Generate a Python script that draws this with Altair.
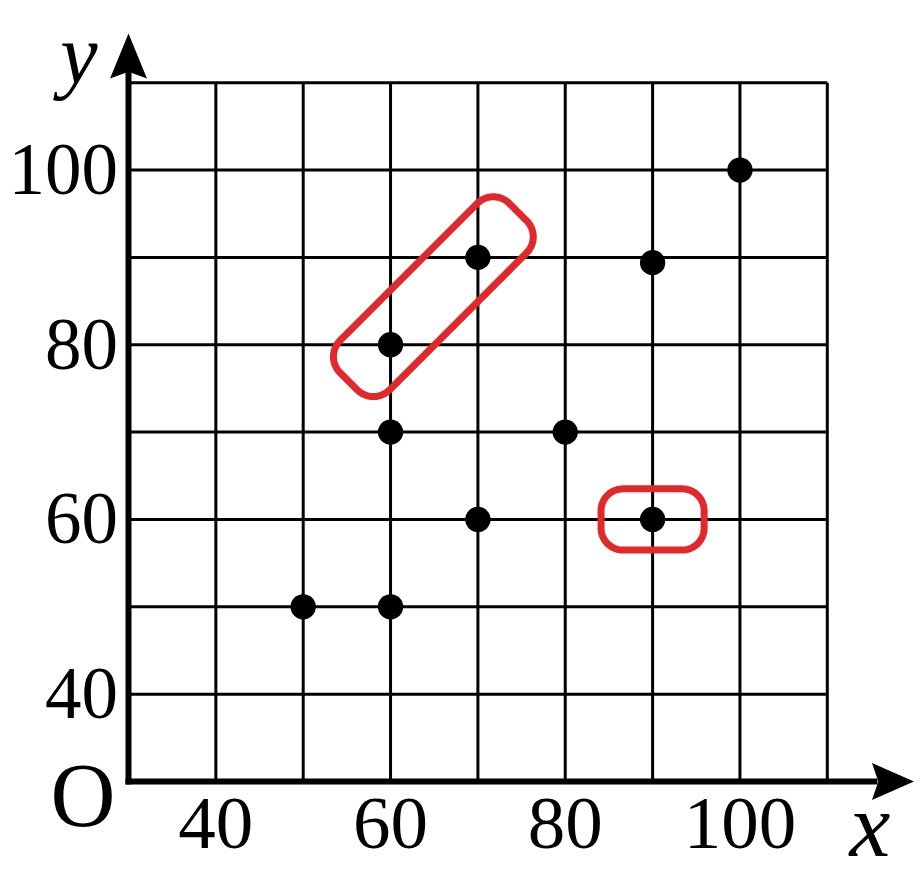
import numpy as np
import pandas as pd
import altair as alt

# ---- data ----
pt_x = [50, 60, 60, 60, 70, 70, 80, 90, 90, 100]
pt_y = [50, 50, 70, 80, 90, 60, 70, 89.4, 60, 100]

grid_vals = [40, 50, 60, 70, 80, 90, 100, 110]
tick_vals = [40, 60, 80, 100]
tick_labels = ["40", "60", "80", "100"]

# highlight loops: centre, half-length, half-width, corner radius, rotation (deg)
loop_cx = [64.9, 90]
loop_cy = [85.5, 60]
loop_hl = [13.7, 5.9]
loop_hw = [4.0, 3.5]
loop_r = [2.6, 2.5]
loop_angle = [45, 0]

AXIS_MIN = 30
GRID_MAX = 110

# ---- scales: one data unit = same pixel length on both axes ----
W, H = 907, 868
PX = 8.735
XMIN, XMAX = 16.205, 16.205 + W / PX
YMAX = 118.55
YMIN = YMAX - H / PX
xs = alt.Scale(domain=[XMIN, XMAX], nice=False, zero=False)
ys = alt.Scale(domain=[YMIN, YMAX], nice=False, zero=False)

def X(f):
    return alt.X(f, type="quantitative", scale=xs, axis=None)

def Y(f):
    return alt.Y(f, type="quantitative", scale=ys, axis=None)

# grid
vgrid = pd.DataFrame({"x": grid_vals, "y": AXIS_MIN, "y2": GRID_MAX})
hgrid = pd.DataFrame({"y": grid_vals, "x": AXIS_MIN, "x2": GRID_MAX})
vg = alt.Chart(vgrid).mark_rule(color="black", strokeWidth=3).encode(
    x=X("x"), y=Y("y"), y2="y2")
hg = alt.Chart(hgrid).mark_rule(color="black", strokeWidth=3).encode(
    y=Y("y"), x=X("x"), x2="x2")

# axes
xa = alt.Chart(pd.DataFrame({"x": [AXIS_MIN], "x2": [115.4], "y": [AXIS_MIN]})).mark_rule(
    color="black", strokeWidth=6, strokeCap="square").encode(x=X("x"), x2="x2", y=Y("y"))
ya = alt.Chart(pd.DataFrame({"y": [AXIS_MIN], "y2": [111.0], "x": [AXIS_MIN]})).mark_rule(
    color="black", strokeWidth=6, strokeCap="square").encode(y=Y("y"), y2="y2", x=X("x"))

right_arrow = "M 1 0 L -1 -0.88 L -0.7 0 L -1 0.88 Z"
up_arrow = "M 0 -1 L -0.82 1 L 0 0.7 L 0.82 1 Z"
xarr = alt.Chart(pd.DataFrame({"x": [117.52], "y": [AXIS_MIN]})).mark_point(
    shape=right_arrow, filled=True, color="black", opacity=1, size=1764).encode(x=X("x"), y=Y("y"))
yarr = alt.Chart(pd.DataFrame({"x": [AXIS_MIN], "y": [113.05]})).mark_point(
    shape=up_arrow, filled=True, color="black", opacity=1, size=2025).encode(x=X("x"), y=Y("y"))

# points
pts = alt.Chart(pd.DataFrame({"x": pt_x, "y": pt_y})).mark_circle(
    color="black", opacity=1, size=640).encode(x=X("x"), y=Y("y"))

# highlight loops (rounded rectangles)
rows = []
for k in range(len(loop_cx)):
    cx, cy, hl, hw, r, ang = loop_cx[k], loop_cy[k], loop_hl[k], loop_hw[k], loop_r[k], loop_angle[k]
    corners = [(hl - r, hw - r, 0), (-(hl - r), hw - r, 90),
               (-(hl - r), -(hw - r), 180), (hl - r, -(hw - r), 270)]
    local = []
    for ux, uy, a0 in corners:
        for t in np.linspace(a0, a0 + 90, 20):
            local.append((ux + r * np.cos(np.radians(t)), uy + r * np.sin(np.radians(t))))
    local.append(local[0])
    c, s = np.cos(np.radians(ang)), np.sin(np.radians(ang))
    for i, (u, v) in enumerate(local):
        rows.append({"loop": k, "i": i, "x": cx + u * c - v * s, "y": cy + u * s + v * c})
loops = alt.Chart(pd.DataFrame(rows)).mark_line(
    color="#e1292b", strokeWidth=7, strokeCap="round", strokeJoin="round").encode(
    x=X("x"), y=Y("y"), detail="loop:N", order="i:Q")

FONT = "Liberation Serif"
xt = alt.Chart(pd.DataFrame({"x": tick_vals, "y": AXIS_MIN, "t": tick_labels})).mark_text(
    font=FONT, fontSize=75, align="center", baseline="alphabetic", dy=66.5, color="black").encode(
    x=X("x"), y=Y("y"), text="t:N")
yt = alt.Chart(pd.DataFrame({"y": tick_vals, "x": AXIS_MIN, "t": tick_labels})).mark_text(
    font=FONT, fontSize=73, align="right", baseline="alphabetic", dx=-10.5, dy=24, color="black").encode(
    x=X("x"), y=Y("y"), text="t:N")
origin = alt.Chart(pd.DataFrame({"x": [AXIS_MIN], "y": [AXIS_MIN], "t": ["O"]})).mark_text(
    font=FONT, fontSize=90, align="center", baseline="alphabetic", dx=-45.5, dy=44.5, color="black").encode(
    x=X("x"), y=Y("y"), text="t:N")
xlab = alt.Chart(pd.DataFrame({"x": [GRID_MAX], "y": [AXIS_MIN], "t": ["x"]})).mark_text(
    font=FONT, fontSize=92, fontStyle="italic", align="center", baseline="alphabetic",
    dx=42.5, dy=74.5, color="black").encode(x=X("x"), y=Y("y"), text="t:N")
ylab = alt.Chart(pd.DataFrame({"x": [AXIS_MIN], "y": [GRID_MAX], "t": ["y"]})).mark_text(
    font=FONT, fontSize=84, fontStyle="italic", align="center", baseline="alphabetic",
    dx=-49.5, dy=0.5, color="black").encode(x=X("x"), y=Y("y"), text="t:N")

chart = alt.layer(vg, hg, loops, xa, ya, xarr, yarr, pts, xt, yt, origin, xlab, ylab).properties(
    width=W, height=H, autosize=alt.AutoSizeParams(type="none"), padding=0,
    background="white").configure_view(stroke=None)

chart.save("out.html", embed_options={"renderer": "svg", "actions": False})
